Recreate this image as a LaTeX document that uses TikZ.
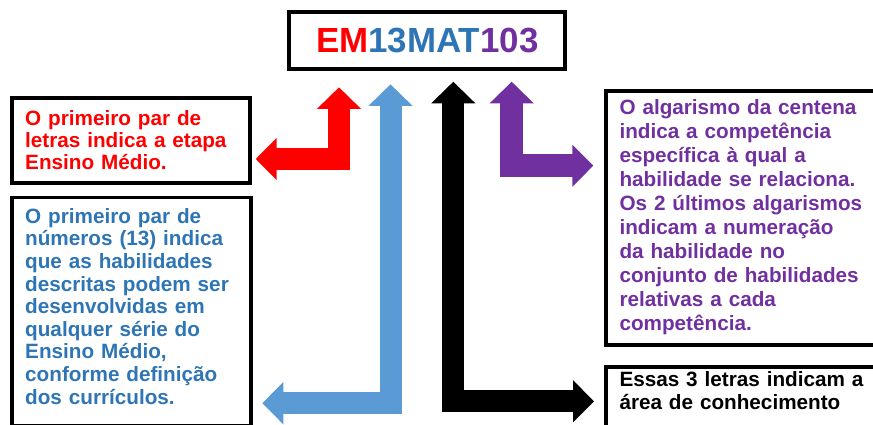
\documentclass[tikz,border=0pt]{standalone}
\usepackage{fontspec}
\setmainfont{Liberation Sans}
\usetikzlibrary{arrows.meta}
\definecolor{cRed}{HTML}{FF0000}
\definecolor{cBlueText}{HTML}{2E75B6}
\definecolor{cBlueArrow}{HTML}{5B9BD5}
\definecolor{cPurple}{HTML}{7030A0}

\begin{document}
\begin{tikzpicture}[x=1pt,y=-1pt,
  frame/.style={draw=black, line width=3.8pt, inner sep=0pt, anchor=north west},
  boxtext/.style={anchor=base west, inner sep=0pt, text width=270pt, align=left,
    font=\bfseries\fontsize{20.7}{#1}\selectfont},
  bentarrow/.style={line width=#1, line join=miter,
    {Triangle[width=43pt,length=21.7pt]}-{Triangle[width=41pt,length=21pt]}}
]
\useasboundingbox (0,0) rectangle (873,425);
\clip (0,0) rectangle (873,425);

% code label at the top
\node[draw=black, line width=3.8pt, inner sep=0pt, minimum width=276pt, minimum height=57pt,
  font=\bfseries\fontsize{34.9}{40}\selectfont] (code) at (427.3,40.5)
  {\textcolor{cRed}{EM}\textcolor{cBlueText}{13MAT}\textcolor{cPurple}{103}};

% explanation frames
\node[frame, minimum width=238.5pt, minimum height=85.2pt] (redBox) at (9.8,95.8) {};
\node[frame, minimum width=239.2pt, minimum height=228.5pt] (blueBox) at (9.8,195.5) {};
\node[frame, minimum width=276.3pt, minimum height=253.3pt] (purpleBox) at (603.7,89.5) {};
\node[frame, minimum width=276.3pt, minimum height=75pt] (blackBox) at (603.7,364.7) {};

% explanation texts
\node[boxtext=22.2pt, text=cRed] (redText) at (25,125.3)
  {O primeiro par de\\letras indica a etapa\\Ensino Médio.};
\node[boxtext=22.6pt, text=cBlueText] (blueText) at (25,223.3)
  {O primeiro par de\\números (13) indica\\que as habilidades\\descritas podem ser\\desenvolvidas em\\qualquer série do\\Ensino Médio,\\conforme definição\\dos currículos.};
\node[boxtext=23.9pt, text=cPurple] (purpleText) at (619.3,115)
  {O algarismo da centena\\indica a competência\\específica à qual a\\habilidade se relaciona.\\Os 2 últimos algarismos\\indicam a numeração\\da habilidade no\\conjunto de habilidades\\relativas a cada\\competência.};
\node[boxtext=22.6pt, text=black] (blackText) at (619.3,386.6)
  {Essas 3 letras indicam a\\área de conhecimento};

% arrow end points
\coordinate (emTip) at (339,87.3);
\coordinate (redTip) at (255.7,159);
\coordinate (numTip) at (390.5,84.3);
\coordinate (blueTip) at (262.3,403.2);
\coordinate (areaTip) at (453.3,81.7);
\coordinate (blackTip) at (594,401.3);
\coordinate (compTip) at (511.7,81.7);
\coordinate (purpleTip) at (593.3,165.7);

% bent double-headed arrows
\draw[bentarrow=21.5pt, color=cRed] (emTip) |- (redTip);
\draw[bentarrow=22pt, color=cBlueArrow] (numTip) |- (blueTip);
\draw[bentarrow=22pt, color=black] (areaTip) |- (blackTip);
\draw[bentarrow=22.5pt, color=cPurple] (compTip) |- (purpleTip);
\end{tikzpicture}
\end{document}
